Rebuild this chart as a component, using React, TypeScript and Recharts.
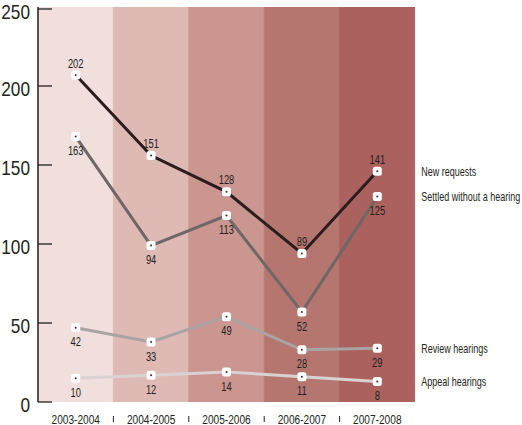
import React from 'react';
import { ComposedChart, Bar, Line, XAxis, YAxis, Cell, LabelList } from 'recharts';

const categories = ['2003-2004', '2004-2005', '2005-2006', '2006-2007', '2007-2008'];
const newRequests = [202, 151, 128, 89, 141];
const settledWithoutHearing = [163, 94, 113, 52, 125];
const reviewHearings = [42, 33, 49, 28, 29];
const appealHearings = [10, 12, 14, 11, 8];
const yTicks = [0, 50, 100, 150, 200, 250];
const axisMax = 250;
const bandColors = ['#f0dfdd', '#dfbab5', '#cb968f', '#b67670', '#ab625e'];

const FONT = "'Liberation Sans', Arial, sans-serif";
const INK = '#231f20';

const data = categories.map((c, i) => ({
  cat: c,
  band: axisMax,
  newRequests: newRequests[i],
  settled: settledWithoutHearing[i],
  review: reviewHearings[i],
  appeal: appealHearings[i],
}));

const series = [
  { key: 'newRequests', name: 'New requests', color: '#2b1d1d', pos: 'above' },
  { key: 'settled', name: 'Settled without a hearing', color: '#6f6767', pos: 'below' },
  { key: 'review', name: 'Review hearings', color: '#aaa3a3', pos: 'below' },
  { key: 'appeal', name: 'Appeal hearings', color: '#d9d2d2', pos: 'below' },
];

const NarrowText = ({ x, y, size, sx, anchor, children }: any) => (
  <text
    transform={`translate(${x},${y}) scale(${sx},1)`}
    x={0}
    y={0}
    textAnchor={anchor}
    dominantBaseline="central"
    fontFamily={FONT}
    fontSize={size}
    fill={INK}
  >
    {children}
  </text>
);

const Marker = (props: any) => {
  const { cx, cy } = props;
  if (cx == null || cy == null) return null;
  return (
    <g>
      <rect x={cx - 4.5} y={cy - 4.5} width={9} height={9} rx={2.5} fill="#ffffff" />
      <circle cx={cx} cy={cy} r={1} fill="#3a2a2a" />
    </g>
  );
};

const makeLabel = (pos: string, name: string) => (props: any) => {
  const { x, y, value, index } = props;
  const dy = pos === 'above' ? -12 : 14;
  return (
    <g>
      <NarrowText x={x} y={y + dy} size={13} sx={0.72} anchor="middle">
        {value}
      </NarrowText>
      {index === categories.length - 1 && (
        <NarrowText x={x + 44} y={y} size={12.5} sx={0.72} anchor="start">
          {name}
        </NarrowText>
      )}
    </g>
  );
};

const YTick = (props: any) => {
  const { x, y, payload } = props;
  return (
    <g>
      <line x1={x + 8} x2={x + 22} y1={y} y2={y} stroke={INK} strokeWidth={1.3} />
      <NarrowText x={x} y={y + 3} size={21} sx={0.82} anchor="end">
        {payload.value}
      </NarrowText>
    </g>
  );
};

const XTick = (props: any) => {
  const { x, y, payload, index } = props;
  const half = payload.offset || 37.7;
  return (
    <g>
      {index > 0 && (
        <line x1={x - half} x2={x - half} y1={y + 6} y2={y + 12} stroke={INK} strokeWidth={1} />
      )}
      <NarrowText x={x} y={y + 9} size={13} sx={0.78} anchor="middle">
        {payload.value}
      </NarrowText>
    </g>
  );
};

export default function App() {
  return (
    <div style={{ position: 'fixed', left: 0, top: 0, width: 522, height: 425, background: '#ffffff' }}>
      <ComposedChart
        width={522}
        height={425}
        data={data}
        margin={{ top: 7, right: 107, bottom: 0, left: 0 }}
        barCategoryGap={0}
        barGap={0}
      >
        <Bar dataKey="band" yAxisId="axis" isAnimationActive={false}>
          {data.map((d, i) => (
            <Cell key={d.cat} fill={bandColors[i]} stroke={bandColors[i]} strokeWidth={1} />
          ))}
        </Bar>
        <XAxis dataKey="cat" height={23} axisLine={false} tickLine={false} tick={<XTick />} interval={0} tickSize={6} tickMargin={2} />
        <YAxis
          yAxisId="axis"
          width={38}
          domain={[0, axisMax]}
          ticks={yTicks}
          axisLine={{ stroke: INK, strokeWidth: 1.5 }}
          tickLine={false}
          tickSize={6}
          tickMargin={2}
          tick={<YTick />}
          allowDataOverflow
        />
        <YAxis yAxisId="data" hide domain={[-5, axisMax - 5]} allowDataOverflow />
        {series.map((s) => (
          <Line
            key={s.key}
            yAxisId="data"
            dataKey={s.key}
            stroke={s.color}
            strokeWidth={3}
            dot={<Marker />}
            activeDot={false}
            isAnimationActive={false}
          >
            <LabelList dataKey={s.key} content={makeLabel(s.pos, s.name)} />
          </Line>
        ))}
      </ComposedChart>
    </div>
  );
}
